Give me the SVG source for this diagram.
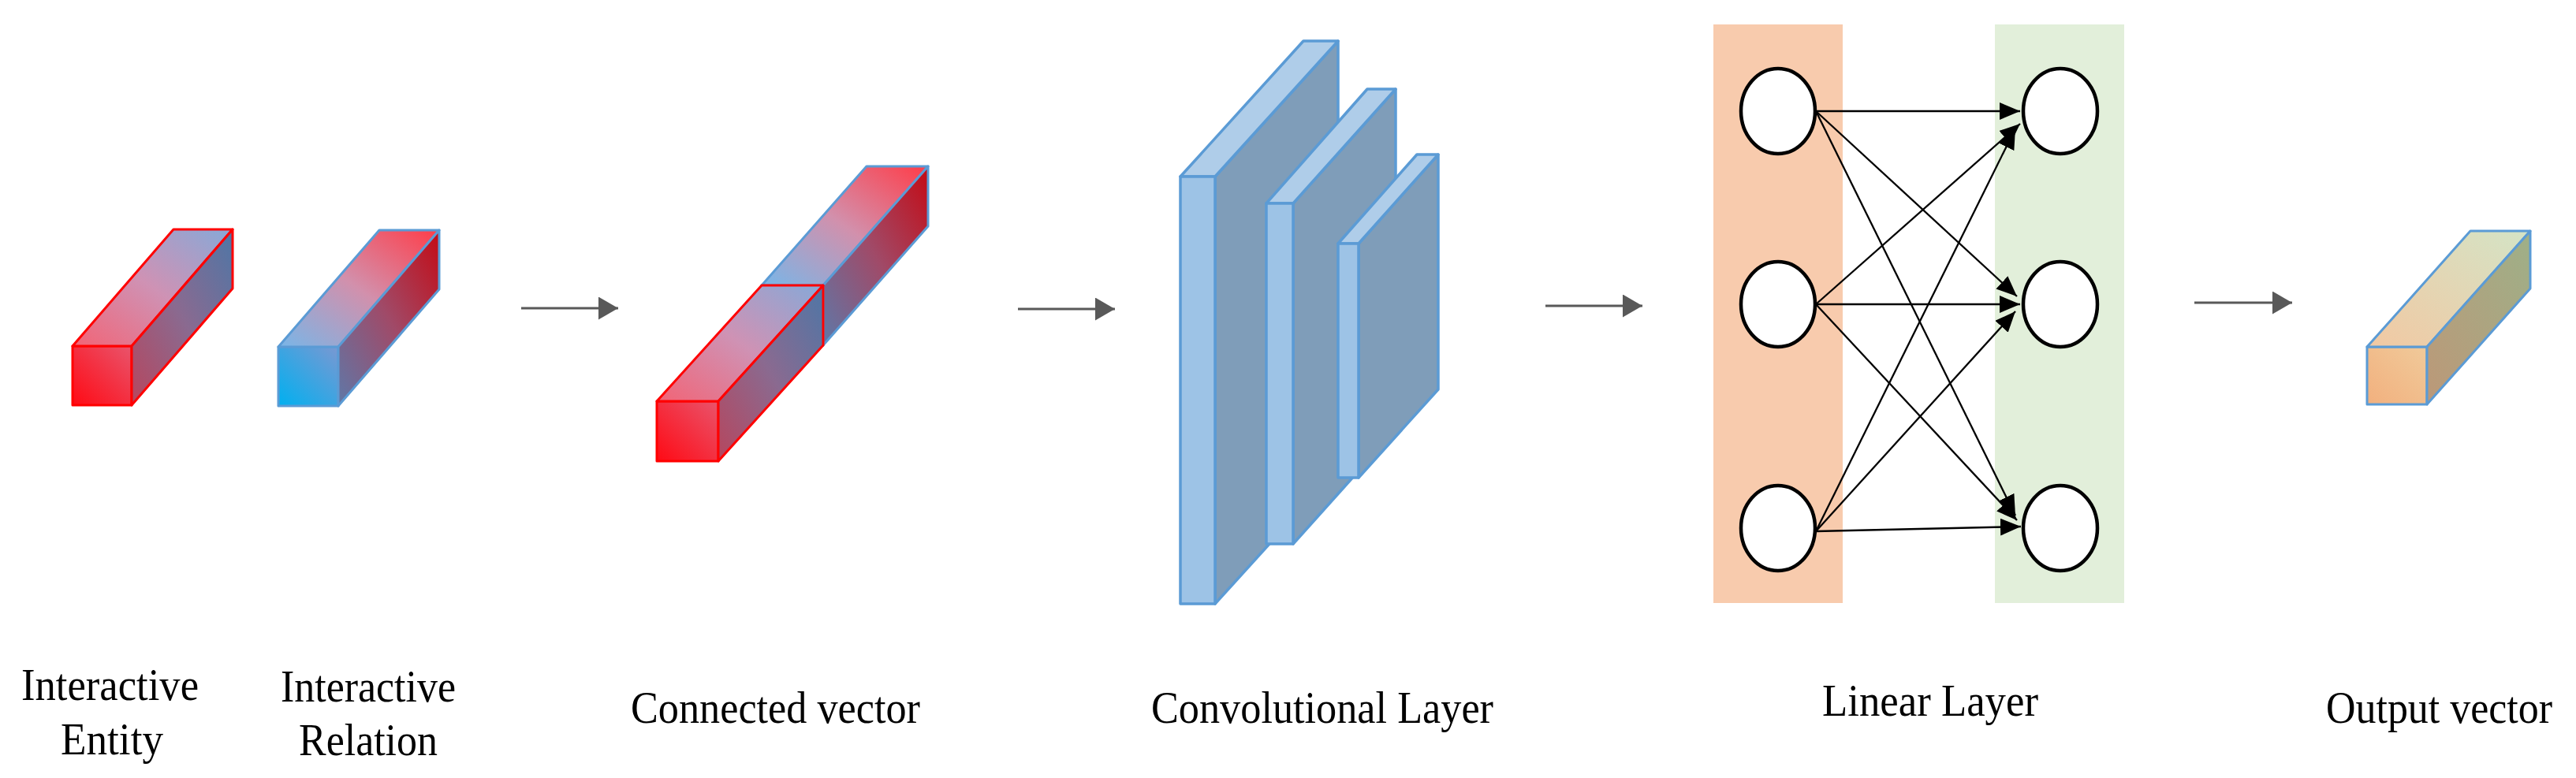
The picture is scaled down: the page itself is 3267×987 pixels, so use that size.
<svg xmlns="http://www.w3.org/2000/svg" width="3267" height="987" viewBox="0 0 3267 987">
<style>
.lbl{font-family:"Liberation Serif","Times New Roman",serif;font-size:58px;fill:#000}
.red{stroke:#ff0000;stroke-width:3;stroke-linejoin:round}
.blu{stroke:#5b9bd5;stroke-width:3;stroke-linejoin:round}
.conv{stroke:#5b9bd5;stroke-width:3.5;stroke-linejoin:round}
.cf{fill:#9dc3e6}.ct{fill:#afcde9}.cr{fill:#7f9db9}
.flow{stroke:#595959;stroke-width:3;fill:none}
.fc{stroke:#000;stroke-width:2.3;fill:none}
.neuron{fill:#fff;stroke:#000;stroke-width:4.5}
</style>
<defs>
<linearGradient id="rF" x1="0" y1="1" x2="1" y2="0"><stop offset="0" stop-color="#ff0a14"/><stop offset="1" stop-color="#e9546c"/></linearGradient>
<linearGradient id="rT" x1="0" y1="1" x2="1" y2="0"><stop offset="0" stop-color="#f26476"/><stop offset="0.5" stop-color="#cf92b4"/><stop offset="1" stop-color="#86a9d8"/></linearGradient>
<linearGradient id="rR" x1="0" y1="1" x2="1" y2="0"><stop offset="0" stop-color="#b6465e"/><stop offset="0.5" stop-color="#8a6a90"/><stop offset="1" stop-color="#4e76a6"/></linearGradient>
<linearGradient id="bF" x1="0" y1="1" x2="1" y2="0"><stop offset="0" stop-color="#00b0f0"/><stop offset="1" stop-color="#7a98d2"/></linearGradient>
<linearGradient id="bT" x1="0" y1="1" x2="1" y2="0"><stop offset="0" stop-color="#78b6e8"/><stop offset="0.5" stop-color="#d290ac"/><stop offset="1" stop-color="#ff3c48"/></linearGradient>
<linearGradient id="bR" x1="0" y1="1" x2="1" y2="0"><stop offset="0" stop-color="#5e78a8"/><stop offset="0.5" stop-color="#a04a68"/><stop offset="1" stop-color="#c40a14"/></linearGradient>
<linearGradient id="oF" x1="0" y1="1" x2="1" y2="0"><stop offset="0" stop-color="#f2b07e"/><stop offset="1" stop-color="#f0ca9a"/></linearGradient>
<linearGradient id="oT" x1="0" y1="1" x2="1" y2="0"><stop offset="0" stop-color="#f2c8a2"/><stop offset="1" stop-color="#d4e4c6"/></linearGradient>
<linearGradient id="oR" x1="0" y1="1" x2="1" y2="0"><stop offset="0" stop-color="#bc9878"/><stop offset="1" stop-color="#9eb088"/></linearGradient>
<marker id="gh" markerUnits="userSpaceOnUse" markerWidth="26" markerHeight="30" refX="25" refY="14.5" orient="auto"><path d="M0,0 L25,14.5 L0,29 Z" fill="#595959"/></marker>
<marker id="kh" markerUnits="userSpaceOnUse" markerWidth="27" markerHeight="23" refX="26" refY="11" orient="auto"><path d="M0,0 L26,11 L0,22 Z" fill="#000"/></marker>
</defs>

<g id="interactive-entity">
<rect class="red" x="92" y="439" width="75" height="75" fill="url(#rF)"/>
<polygon class="red" points="92,439 167,439 295,291 220,291" fill="url(#rT)"/>
<polygon class="red" points="167,439 295,291 295,366 167,514" fill="url(#rR)"/>
</g>

<g id="interactive-relation">
<rect class="blu" x="353" y="440" width="76" height="75" fill="url(#bF)"/>
<polygon class="blu" points="353,440 429,440 557,292 481,292" fill="url(#bT)"/>
<polygon class="blu" points="429,440 557,292 557,367 429,515" fill="url(#bR)"/>
</g>

<g id="connected-vector">
<rect class="blu" x="966" y="362" width="78" height="76" fill="url(#bF)"/>
<polygon class="blu" points="966,362 1044,362 1177,211 1099,211" fill="url(#bT)"/>
<polygon class="blu" points="1044,362 1177,211 1177,287 1044,438" fill="url(#bR)"/>
<rect class="red" x="833" y="509" width="78" height="76" fill="url(#rF)"/>
<polygon class="red" points="833,509 911,509 1044,362 966,362" fill="url(#rT)"/>
<polygon class="red" points="911,509 1044,362 1044,438 911,585" fill="url(#rR)"/>
</g>

<g id="convolutional-layer">
<polygon class="conv cr" points="1541,224 1697,52 1697,594 1541,766"/>
<polygon class="conv ct" points="1497,224 1541,224 1697,52 1653,52"/>
<rect class="conv cf" x="1497" y="224" width="44" height="542"/>
<polygon class="conv cr" points="1640,258 1770,113 1770,545 1640,690"/>
<polygon class="conv ct" points="1606,258 1640,258 1770,113 1734,113"/>
<rect class="conv cf" x="1606" y="258" width="34" height="432"/>
<polygon class="conv cr" points="1723,309 1824,196 1824,494 1723,606"/>
<polygon class="conv ct" points="1697,309 1723,309 1824,196 1797,196"/>
<rect class="conv cf" x="1697" y="309" width="26" height="297"/>
</g>

<g id="linear-layer">
<rect x="2173" y="31" width="164" height="734" fill="#f8cbad"/>
<rect x="2530" y="31" width="164" height="734" fill="#e2efda"/>
</g>

<g id="connectors">
<line class="flow" x1="661" y1="391" x2="784" y2="391" marker-end="url(#gh)"/>
<line class="flow" x1="1291" y1="392" x2="1414" y2="392" marker-end="url(#gh)"/>
<line class="flow" x1="1960" y1="388" x2="2083" y2="388" marker-end="url(#gh)"/>
<line class="flow" x1="2783" y1="384" x2="2907" y2="384" marker-end="url(#gh)"/>
<line class="fc" x1="2303" y1="141" x2="2562" y2="141" marker-end="url(#kh)"/>
<line class="fc" x1="2303" y1="141" x2="2558" y2="376" marker-end="url(#kh)"/>
<line class="fc" x1="2303" y1="141" x2="2556" y2="654" marker-end="url(#kh)"/>
<line class="fc" x1="2303" y1="386" x2="2562" y2="157" marker-end="url(#kh)"/>
<line class="fc" x1="2303" y1="386" x2="2562" y2="386" marker-end="url(#kh)"/>
<line class="fc" x1="2303" y1="386" x2="2558" y2="660" marker-end="url(#kh)"/>
<line class="fc" x1="2303" y1="674" x2="2556" y2="163" marker-end="url(#kh)"/>
<line class="fc" x1="2303" y1="674" x2="2556" y2="395" marker-end="url(#kh)"/>
<line class="fc" x1="2303" y1="674" x2="2563" y2="668" marker-end="url(#kh)"/>
</g>

<g id="linear-neurons">
<ellipse class="neuron" cx="2255" cy="141" rx="47" ry="54"/>
<ellipse class="neuron" cx="2255" cy="386" rx="47" ry="54"/>
<ellipse class="neuron" cx="2255" cy="670" rx="47" ry="54"/>
<ellipse class="neuron" cx="2613" cy="141" rx="47" ry="54"/>
<ellipse class="neuron" cx="2613" cy="386" rx="47" ry="54"/>
<ellipse class="neuron" cx="2613" cy="670" rx="47" ry="54"/>
</g>

<g id="output-vector">
<rect class="blu" x="3002" y="440" width="76" height="73" fill="url(#oF)"/>
<polygon class="blu" points="3002,440 3078,440 3209,293 3133,293" fill="url(#oT)"/>
<polygon class="blu" points="3078,440 3209,293 3209,366 3078,513" fill="url(#oR)"/>
</g>

<g id="labels">
<text class="lbl" x="27" y="888" textLength="225" lengthAdjust="spacingAndGlyphs">Interactive</text>
<text class="lbl" x="77" y="957" textLength="130" lengthAdjust="spacingAndGlyphs">Entity</text>
<text class="lbl" x="356" y="890" textLength="222" lengthAdjust="spacingAndGlyphs">Interactive</text>
<text class="lbl" x="379" y="958" textLength="176" lengthAdjust="spacingAndGlyphs">Relation</text>
<text class="lbl" x="800" y="917" textLength="367" lengthAdjust="spacingAndGlyphs">Connected vector</text>
<text class="lbl" x="1460" y="917" textLength="434" lengthAdjust="spacingAndGlyphs">Convolutional Layer</text>
<text class="lbl" x="2311" y="908" textLength="274" lengthAdjust="spacingAndGlyphs">Linear Layer</text>
<text class="lbl" x="2950" y="917" textLength="287" lengthAdjust="spacingAndGlyphs">Output vector</text>
</g>
</svg>
